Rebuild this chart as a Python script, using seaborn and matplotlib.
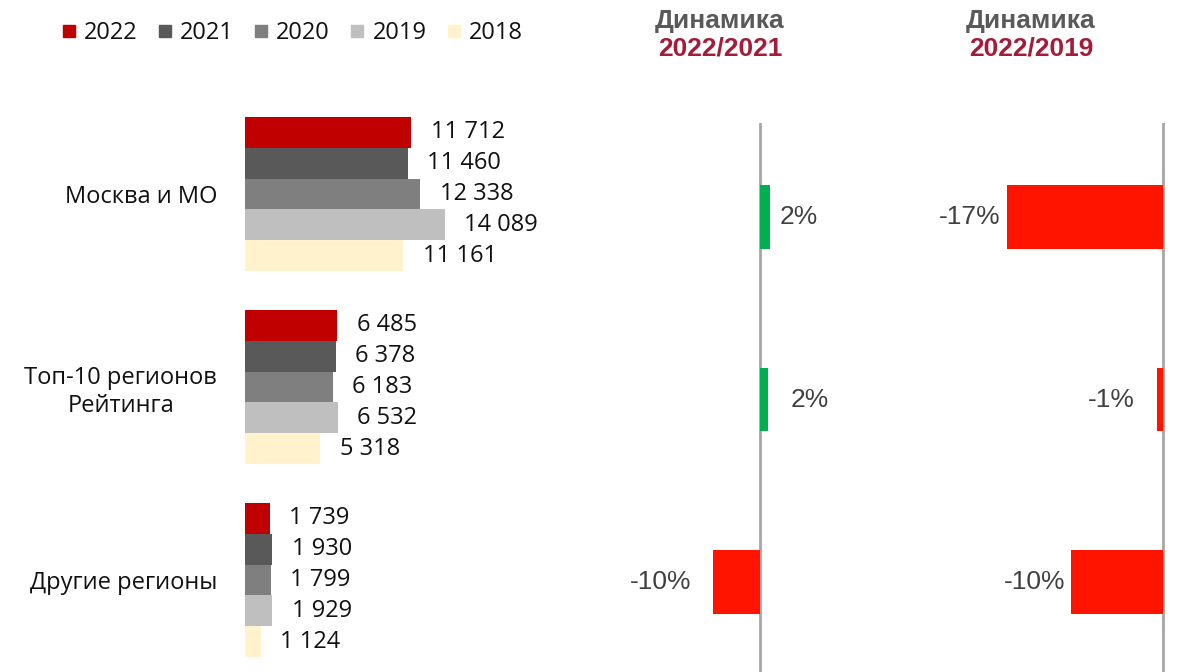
import matplotlib
matplotlib.use("Agg")
import matplotlib.pyplot as plt
from matplotlib.lines import Line2D
import numpy as np
import pandas as pd
import seaborn as sns

# data
regions = ["Москва и МО", "Топ-10 регионов\nРейтинга", "Другие регионы"]
years = ["2022", "2021", "2020", "2019", "2018"]
v2022 = [11712, 6485, 1739]
v2021 = [11460, 6378, 1930]
v2020 = [12338, 6183, 1799]
v2019 = [14089, 6532, 1929]
v2018 = [11161, 5318, 1124]
dyn_22_21 = [0.022, 0.017, -0.099]
dyn_22_19 = [-0.169, -0.007, -0.099]

year_colors = ["#C00000", "#595959", "#7F7F7F", "#BFBFBF", "#FFF2CC"]
green, red = "#00B050", "#FF1400"

W, H = 1177, 672


def px_box(x0, y0, x1, y1):
    return [x0 / W, 1 - y1 / H, (x1 - x0) / W, (y1 - y0) / H]


sns.set_theme(style="white")
plt.rcParams["font.family"] = ["Open Sans", "DejaVu Sans"]

fig = plt.figure(figsize=(W / 100, H / 100), dpi=100)

#%% left panel: absolute values
df = pd.DataFrame({"region": regions * 5,
                   "year": np.repeat(years, 3),
                   "value": v2022 + v2021 + v2020 + v2019 + v2018})

ax = fig.add_axes(px_box(245, 100, 545, 672))
sns.barplot(data=df, y="region", x="value", hue="year", hue_order=years,
            palette=year_colors, orient="h", width=0.8, saturation=1,
            linewidth=0, legend=False, ax=ax)
for cont in ax.containers:
    labs = [f"{int(b.get_width()):,}".replace(",", " ") for b in cont]
    ax.bar_label(cont, labels=labs, padding=14, fontsize=17, color="#111111")
ax.set_xlim(0, 300 * 14089 / 200)
ax.set_ylim(2.477, -0.487)
ax.set_xticks([])
ax.set_xlabel("")
ax.set_ylabel("")
ax.tick_params(axis="y", length=0, pad=20, labelsize=17, labelcolor="#111111")
for t in ax.get_yticklabels():
    t.set_multialignment("center")
sns.despine(ax=ax, left=True, bottom=True)

handles = [Line2D([], [], marker="s", ls="", color=c, markersize=9) for c in year_colors]
fig.legend(handles, years, ncol=5, loc="center left",
           bbox_to_anchor=(39 / W, 1 - 33 / H), frameon=False,
           handlelength=0.7, handletextpad=0.3, columnspacing=0.8,
           fontsize=17, labelcolor="#111111")

#%% dynamics panels
# label gaps (pt) as placed in the original, row by row
panels = [(dyn_22_21, "2022/2021", 600, 800, 760, 470, [7, 16, 16]),
          (dyn_22_19, "2022/2019", 880, 1177, 1163, 925, [4.5, 16, 4.5])]
for vals, title, x0, x1, xz, scale, pads in panels:
    axd = fig.add_axes(px_box(x0, 123, x1, 672))
    cols = [green if v > 0 else red for v in vals]
    sns.barplot(x=vals, y=regions, hue=regions, palette=cols, orient="h",
                width=0.35, saturation=1, linewidth=0, legend=False, ax=axd)
    for cont, pad in zip(axd.containers, pads):
        labs = [f"{b.get_width():.0%}" for b in cont]
        axd.bar_label(cont, labels=labs, padding=pad, fontsize=19,
                      color="#404040", family="Liberation Sans")
    axd.axvline(0, color="#A6A6A6", lw=2, zorder=0)
    axd.set_xlim((x0 - xz) / scale, (x1 - xz) / scale)
    axd.set_ylim(2.493, -0.515)
    axd.set_xticks([])
    axd.set_yticks([])
    axd.set_xlabel("")
    axd.set_ylabel("")
    sns.despine(ax=axd, left=True, bottom=True)

    cx = {"2022/2021": 720, "2022/2019": 1031}[title]
    fig.text(cx / W, 1 - 21 / H, "Динамика", ha="center", va="center",
             fontsize=19, fontweight="bold", color="#595959", family="Liberation Sans")
    fig.text(cx / W, 1 - 49 / H, title, ha="center", va="center",
             fontsize=19, fontweight="bold", color="#A51C3A", family="Liberation Sans")

fig.savefig("out.png", dpi=100)
